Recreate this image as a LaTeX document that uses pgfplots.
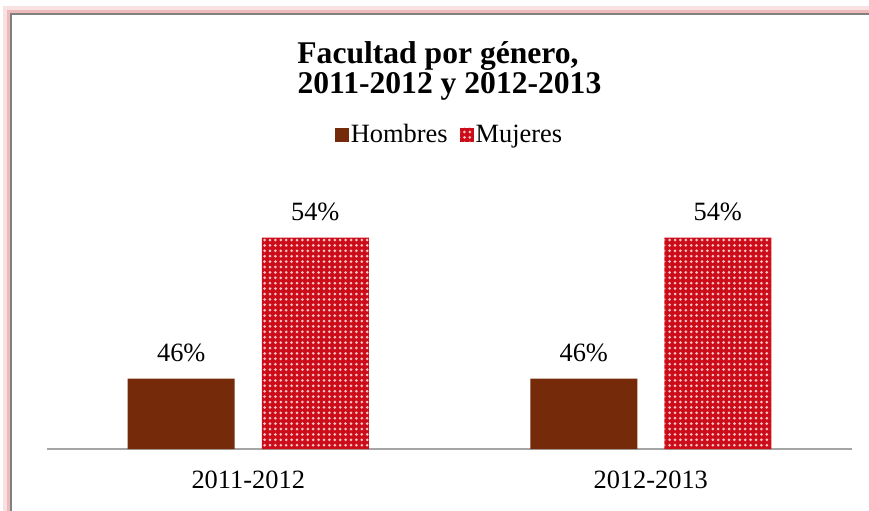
\documentclass[border=0pt]{standalone}
\usepackage{fontspec}
\setmainfont{Liberation Serif}
\usepackage{pgfplots}
\pgfplotsset{compat=1.18}
\usetikzlibrary{patterns}
\pgfdeclarepatternformonly{bigdots}{\pgfqpoint{-1pt}{-1pt}}{\pgfqpoint{1pt}{1pt}}{\pgfqpoint{2.7pt}{2.7pt}}{\pgfpathcircle{\pgfqpoint{0pt}{0pt}}{0.75pt}\pgfusepath{fill}}
\definecolor{hom}{RGB}{117,42,10}
\definecolor{muj}{RGB}{204,12,24}
\definecolor{glow}{RGB}{232,170,170}
\definecolor{axisgray}{RGB}{165,165,165}
\begin{document}
\begin{tikzpicture}[x=1pt,y=1pt]
\useasboundingbox (0,0) rectangle (434.5,255);
\fill[white] (0,0) rectangle (434.5,255);
\begin{scope}
\clip (0,0) rectangle (434.5,255);
\draw[glow!35, line width=4pt] (3.5,250) rectangle (460,-20);
\draw[glow!80, line width=2pt] (4.3,249.2) rectangle (460,-20);
\draw[gray, line width=0.8pt] (5.5,248) rectangle (460,-20);
\end{scope}
\begin{axis}[
  at={(23.5pt,30.5pt)}, anchor=south west,
  scale only axis, width=402.5pt, height=141pt,
  xmin=-0.5, xmax=1.5, ymin=42, ymax=58,
  ybar=13.5pt, bar width=53.5pt,
  xtick={0,1}, xticklabels={2011-2012,2012-2013},
  ytick=\empty,
  axis x line*=bottom, axis y line=none,
  x axis line style={draw=axisgray, line width=1pt, -},
  major tick length=0pt,
  xticklabel style={font=\fontsize{13.2}{15}\selectfont, anchor=base, yshift=-19.5pt},
  /pgf/number format/assume math mode=true,
  nodes near coords={\pgfmathprintnumber{\pgfplotspointmeta}\%},
  every node near coord/.append style={font=\fontsize{13.2}{15}\selectfont, anchor=base, yshift=8.5pt, text=black},
  clip=false,
  legend columns=2,
  legend style={at={(0.5,1.1135)}, anchor=center, draw=none, fill=none,
    font=\fontsize{13.2}{15}\selectfont,
    nodes={inner sep=1pt},
    /tikz/every even column/.append style={column sep=5pt}},
  legend image code/.code={\fill[#1] (-1pt,-3.5pt) rectangle (6pt,3.5pt);},
]
\addplot[draw=none, fill=hom] coordinates {(0,46) (1,46)};
\addlegendentry{Hombres}
\addplot[fill=muj, draw=none, postaction={pattern=bigdots, pattern color=white!75!muj}] coordinates {(0,54) (1,54)};
\addlegendentry{Mujeres}
\end{axis}
\node[font=\bfseries\fontsize{15.8}{18}\selectfont, anchor=base] at (219,223) {Facultad por género,};
\node[font=\bfseries\fontsize{15.8}{18}\selectfont, anchor=base] at (224.75,208) {2011-2012 y 2012-2013};
\end{tikzpicture}
\end{document}
